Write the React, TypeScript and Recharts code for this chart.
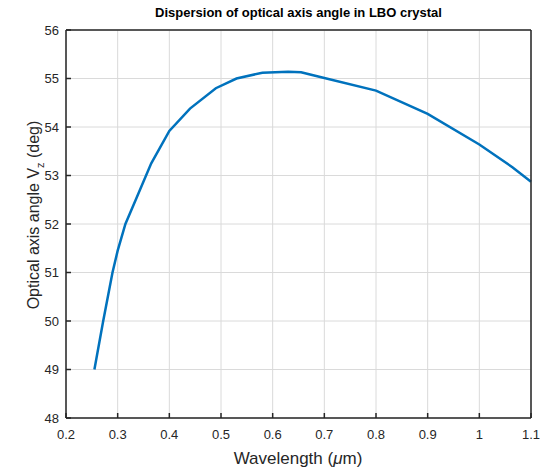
import React from "react";
import { LineChart, Line, XAxis, YAxis, CartesianGrid, Label } from "recharts";

// wavelength (um) vs optical axis angle Vz (deg)
const wavelengths = [0.255, 0.272, 0.29, 0.3, 0.315, 0.335, 0.365, 0.4, 0.44, 0.49, 0.53, 0.58, 0.63, 0.655, 0.7, 0.8, 0.9, 1.0, 1.064, 1.1];
const vzAngles = [49.0, 50.0, 51.0, 51.45, 52.0, 52.5, 53.25, 53.92, 54.38, 54.8, 55.0, 55.12, 55.14, 55.13, 55.01, 54.75, 54.27, 53.64, 53.17, 52.87];
const xTicks = [0.2, 0.3, 0.4, 0.5, 0.6, 0.7, 0.8, 0.9, 1.0, 1.1];
const yTicks = [48, 49, 50, 51, 52, 53, 54, 55, 56];

const data = wavelengths.map((w, i) => ({ w, vz: vzAngles[i] }));

const AXIS = "#262626";
const FONT = "'Liberation Sans', Arial, sans-serif";
const tickStyle = { fontSize: 13, fill: AXIS, fontFamily: FONT };
const lineStyle = { stroke: AXIS, strokeWidth: 1.5 };

const fmtX = (v: number) => (Math.abs(v - 1) < 1e-9 ? "1" : String(Math.round(v * 10) / 10));

export default function App() {
  return (
    <div style={{ position: "absolute", left: 0, top: 0, width: 544, height: 469, background: "#fff" }}>
      <div
        style={{
          position: "absolute",
          left: 66,
          width: 465,
          top: 5,
          textAlign: "center",
          fontFamily: FONT,
          fontWeight: "bold",
          fontSize: 13,
          color: "#000",
        }}
      >
        Dispersion of optical axis angle in LBO crystal
      </div>
      <LineChart width={544} height={469} data={data} margin={{ top: 25, right: 8, bottom: 0, left: 0 }}>
        <CartesianGrid stroke="#dadada" strokeWidth={1} />
        <XAxis
          dataKey="w"
          type="number"
          domain={[0.2, 1.1]}
          ticks={xTicks}
          tickFormatter={fmtX}
          height={51}
          tickSize={-5}
          tickMargin={17}
          stroke={AXIS}
          tick={tickStyle}
          axisLine={lineStyle}
          tickLine={lineStyle}
        >
          <Label
            content={() => (
              <text x={298} y={464} textAnchor="middle" fontSize={17} fontFamily={FONT} fill={AXIS}>
                Wavelength (<tspan fontStyle="italic">μ</tspan>m)
              </text>
            )}
          />
        </XAxis>
        <XAxis
          xAxisId="top"
          orientation="top"
          dataKey="w"
          type="number"
          domain={[0.2, 1.1]}
          ticks={xTicks}
          height={5}
          tick={false}
          tickSize={-5}
          stroke={AXIS}
          axisLine={lineStyle}
          tickLine={lineStyle}
        />
        <YAxis
          dataKey="vz"
          type="number"
          domain={[48, 56]}
          ticks={yTicks}
          width={66}
          tickSize={-5}
          tickMargin={12}
          stroke={AXIS}
          tick={tickStyle}
          axisLine={lineStyle}
          tickLine={lineStyle}
        >
          <Label
            content={() => (
              <text
                x={0}
                y={0}
                transform="translate(39,215) rotate(-90)"
                textAnchor="middle"
                fontSize={16}
                fontFamily={FONT}
                fill={AXIS}
              >
                Optical axis angle V<tspan dy={5} fontSize={11}>z</tspan>
                <tspan dy={-5}> (deg)</tspan>
              </text>
            )}
          />
        </YAxis>
        <YAxis
          yAxisId="right"
          orientation="right"
          type="number"
          domain={[48, 56]}
          ticks={yTicks}
          width={5}
          tick={false}
          tickSize={-5}
          stroke={AXIS}
          axisLine={lineStyle}
          tickLine={lineStyle}
        />
        <Line
          type="linear"
          dataKey="vz"
          stroke="#0072BD"
          strokeWidth={2.5}
          dot={false}
          isAnimationActive={false}
        />
      </LineChart>
    </div>
  );
}
